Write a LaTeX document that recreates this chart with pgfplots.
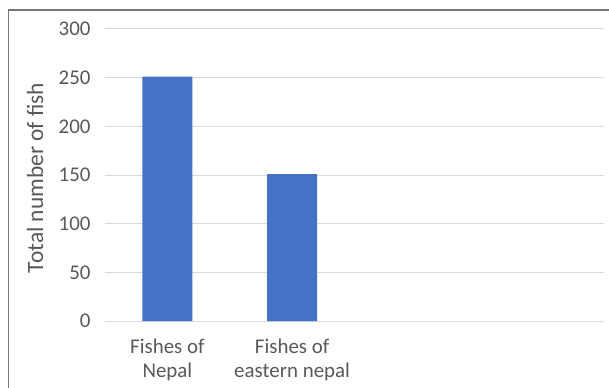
\documentclass[border=0pt]{standalone}
\usepackage{fontspec}
\setmainfont{Carlito}
\usepackage{pgfplots}
\pgfplotsset{compat=1.18}
\definecolor{barblue}{HTML}{4472C4}
\definecolor{gridgray}{HTML}{D9D9D9}
\definecolor{txtgray}{HTML}{595959}
\definecolor{framegray}{HTML}{767676}
\begin{document}
\begin{tikzpicture}[x=1bp,y=1bp]
\useasboundingbox (0,0) rectangle (609,387);
\clip (0,0) rectangle (609,387);
\fill[white] (0,0) rectangle (609,387);
\draw[framegray, line width=1.2bp] (8.5,-20) rectangle (640,377);
\begin{axis}[
  at={(105bp,66bp)}, anchor=south west, scale only axis,
  width=499bp, height=292bp,
  ybar, bar width=0.4,
  xmin=-0.5, xmax=3.5, ymin=0, ymax=300,
  ytick={0,50,...,300},
  xtick={0,1,2,3},
  xticklabels={{Fishes of\\Nepal},{Fishes of\\eastern nepal},{},{}},
  axis line style={draw=none},
  major tick length=0pt,
  ymajorgrids,
  grid style={gridgray, line width=1bp},
  /pgf/number format/assume math mode=true,
  tick label style={font=\fontsize{21}{25}\selectfont, text=txtgray},
  yticklabel style={xshift=-11bp},
  xticklabel style={align=center, yshift=-14bp},
  ylabel={Total number of fish},
  ylabel style={at={(axis description cs:-0.14,0.49)}, anchor=center, font=\fontsize{23.5}{28}\selectfont, text=txtgray},
]
\addplot[fill=barblue, draw=none] coordinates {(0,251) (1,151)};
\end{axis}
\end{tikzpicture}
\end{document}
